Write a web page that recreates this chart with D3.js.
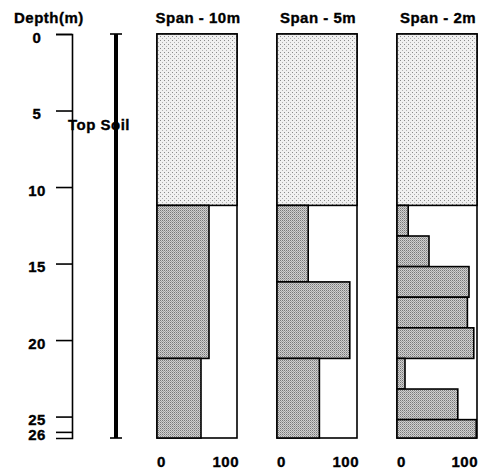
<!DOCTYPE html>
<html lang="en">
<head>
  <meta charset='utf-8'>
  <title>Span profile</title>
  <script type="text/javascript" src="https://d3js.org/d3.v7.min.js"></script>
  <style type="text/css">
    body { margin: 0; background: #fff; }
    text { font-family: "Liberation Sans", Arial, sans-serif; font-weight: bold; font-size: 15px; letter-spacing: 0.5px; fill: #000; stroke: #000; stroke-width: 0.35px; }
  </style>
</head>
<body>
  <script type="text/javascript">
    // depth axis
    var depthTicks = [0, 5, 10, 15, 20, 25, 26];
    var maxDepth = 26.4;
    var topSoilDepth = 11.2;
    var soilLabel = "Top Soil";

    // panels
    var spanNames = ["Span - 10m", "Span - 5m", "Span - 2m"];
    var bounds10 = [11.2, 21.2, 26.4];
    var values10 = [65, 55];
    var bounds5 = [11.2, 16.2, 21.2, 26.4];
    var values5 = [39, 91, 53];
    var bounds2 = [11.2, 13.2, 15.2, 17.2, 19.2, 21.2, 23.2, 25.2, 26.4];
    var values2 = [14, 40, 90, 88, 96, 10, 76, 99];
    var xTicks = [0, 100];

    var allBounds = [bounds10, bounds5, bounds2];
    var allValues = [values10, values5, values2];

    var width = 479, height = 470;
    var yTop = 34, yBottom = 438;

    var svg = d3.select('body').append('svg')
                .attr('width', width)
                .attr('height', height);

    // speckle textures
    var defs = svg.append('defs');
    var soil = defs.append('pattern').attr('id', 'soil')
                   .attr('width', 4).attr('height', 4)
                   .attr('patternUnits', 'userSpaceOnUse');
    soil.append('rect').attr('width', 4).attr('height', 4).attr('fill', '#f0f0f0');
    soil.append('rect').attr('x', 0).attr('y', 0).attr('width', 1).attr('height', 1).attr('fill', '#8a8a8a');
    soil.append('rect').attr('x', 2).attr('y', 2).attr('width', 1).attr('height', 1).attr('fill', '#b0b0b0');

    var grain = defs.append('pattern').attr('id', 'grain')
                    .attr('width', 2).attr('height', 2)
                    .attr('patternUnits', 'userSpaceOnUse');
    grain.append('rect').attr('width', 2).attr('height', 2).attr('fill', '#d0d0d0');
    grain.append('rect').attr('x', 0).attr('y', 0).attr('width', 1).attr('height', 1).attr('fill', '#787878');
    grain.append('rect').attr('x', 1).attr('y', 1).attr('width', 1).attr('height', 1).attr('fill', '#a0a0a0');

    var y = d3.scaleLinear().domain([0, maxDepth]).range([yTop, yBottom]);

    // depth axis
    var axis = svg.append('g')
                  .attr('transform', 'translate(72,0)')
                  .call(d3.axisLeft(y).tickValues(depthTicks).tickSize(16).tickSizeOuter(16).tickFormat(d3.format('d')));
    axis.attr('font-size', null).attr('font-family', null);
    axis.selectAll('path, line').attr('stroke', '#000').attr('stroke-width', 1.6);
    axis.selectAll('text')
        .attr('x', -35)
        .attr('dy', 8)
        .attr('text-anchor', 'middle');

    svg.append('text').attr('x', 14).attr('y', 23).text('Depth(m)');

    // top soil column
    var colX = 116;
    svg.append('line').attr('x1', colX).attr('x2', colX)
       .attr('y1', y(0)).attr('y2', y(maxDepth))
       .attr('stroke', '#000').attr('stroke-width', 4);
    [0, maxDepth].forEach(function(d){
      svg.append('line').attr('x1', colX - 6).attr('x2', colX + 6)
         .attr('y1', y(d)).attr('y2', y(d))
         .attr('stroke', '#000').attr('stroke-width', 1.6);
    });
    svg.append('text').attr('x', 99).attr('y', 130)
       .attr('text-anchor', 'middle').text(soilLabel);

    // span panels
    var panelLeft = [157, 277, 397];
    var panelW = 80;

    spanNames.forEach(function(name, i){
      var x = d3.scaleLinear().domain([0, 100]).range([panelLeft[i], panelLeft[i] + panelW]);
      var g = svg.append('g');

      g.append('text').attr('x', (x(0) + x(100)) / 2 + 1).attr('y', 23)
       .attr('text-anchor', 'middle').text(name);

      g.append('rect')
       .attr('x', x(0)).attr('y', y(0))
       .attr('width', x(100) - x(0)).attr('height', y(maxDepth) - y(0))
       .attr('fill', '#fff').attr('stroke', '#000').attr('stroke-width', 1.6);

      g.append('rect')
       .attr('x', x(0)).attr('y', y(0))
       .attr('width', x(100) - x(0)).attr('height', y(topSoilDepth) - y(0))
       .attr('fill', 'url(#soil)').attr('stroke', '#000').attr('stroke-width', 1.6);

      var b = allBounds[i];
      g.selectAll('.bar').data(allValues[i]).enter()
       .append('rect').attr('class', 'bar')
       .attr('x', x(0))
       .attr('y', function(d, j){ return y(b[j]); })
       .attr('width', function(d){ return x(d) - x(0); })
       .attr('height', function(d, j){ return y(b[j + 1]) - y(b[j]); })
       .attr('fill', 'url(#grain)').attr('stroke', '#000').attr('stroke-width', 1.6);

      g.selectAll('.xl').data(xTicks).enter()
       .append('text').attr('class', 'xl')
       .attr('x', function(d){ return d === 0 ? x(d) : Math.min(x(d) + 2, width - 1); })
       .attr('y', 467)
       .attr('text-anchor', function(d){ return d === 0 ? 'start' : 'end'; })
       .text(function(d){ return d; });
    });
  </script>
</body>
</html>
